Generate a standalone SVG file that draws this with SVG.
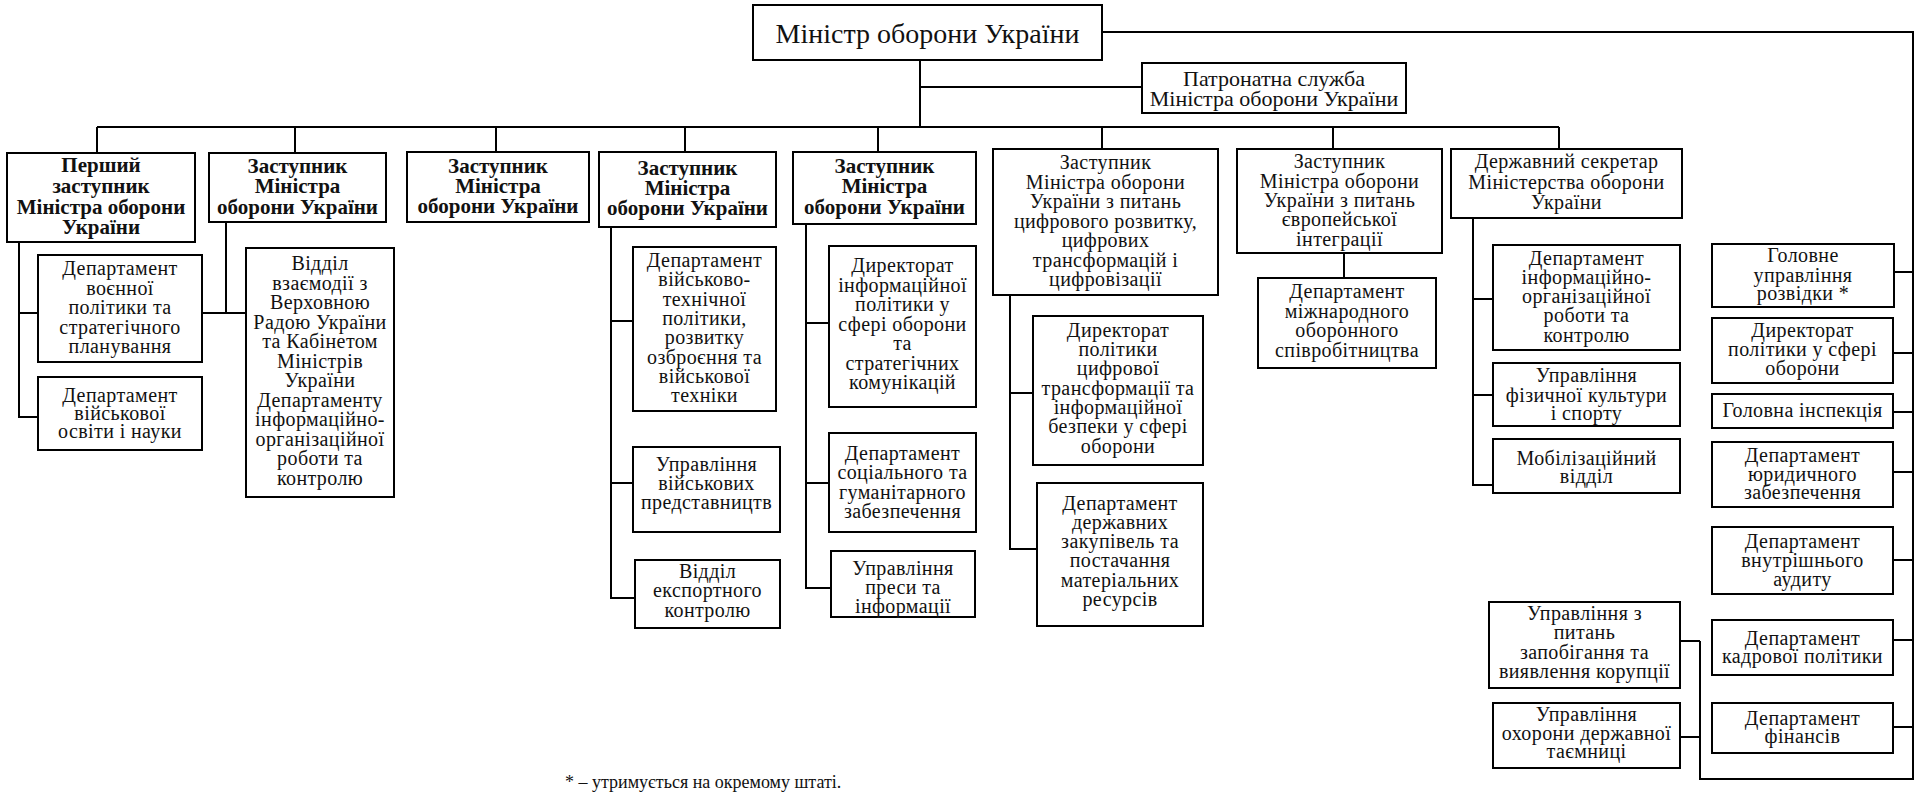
<svg xmlns="http://www.w3.org/2000/svg" width="1920" height="802" viewBox="0 0 1920 802">
<style>
.bx{fill:#fff;stroke:#000;stroke-width:2}
.ln{fill:none;stroke:#000;stroke-width:2}
text{font-family:"Liberation Serif","Times New Roman",serif;font-size:20px;letter-spacing:0.4px;text-anchor:middle;fill:#111}
.hd{font-weight:bold;font-size:21px;letter-spacing:0}
.big{font-size:28px;letter-spacing:0}
.pat{font-size:22px;letter-spacing:0}
.note{font-size:18px;letter-spacing:0;text-anchor:start}
</style>
<rect width="1920" height="802" fill="#fff"/>
<g id="connectors">
<path class="ln" d="M1102,32 H1913 V779 H1700 V641"/>
<path class="ln" d="M1894,272 H1913 M1893,353 H1913 M1893,412 H1913 M1893,472 H1913 M1893,560 H1913 M1893,640 H1913 M1893,727 H1913"/>
<path class="ln" d="M1680,641 H1700 M1680,737 H1700"/>
<path class="ln" d="M920,60 V127 M920,87 H1142"/>
<path class="ln" d="M97,127 H1559 M97,127 V153 M295,127 V153 M496,127 V152 M685,127 V152 M878,127 V152 M1102,127 V149 M1333,127 V149 M1559,127 V149"/>
<path class="ln" d="M19,242 V417 H38 M19,313 H38"/>
<path class="ln" d="M226,222 V313 M202,313 H246"/>
<path class="ln" d="M611,227 V598 H635 M611,321 H633 M611,483 H633"/>
<path class="ln" d="M806,224 V588 H831 M806,323 H829 M806,483 H829"/>
<path class="ln" d="M1010,295 V549 H1037 M1010,393 H1033"/>
<path class="ln" d="M1344,253 V278"/>
<path class="ln" d="M1473,218 V485 H1493 M1473,299 H1493 M1473,395 H1493"/>
</g>
<g id="minister"><rect class="bx" x="753" y="5" width="349" height="55"/><text class="big" x="927.5" y="43">Міністр оборони України</text></g>
<g id="patronatna"><rect class="bx" x="1142" y="63" width="264" height="50"/><text class="pat"><tspan x="1274" y="86">Патронатна служба</tspan><tspan x="1274" y="106">Міністра оборони України</tspan></text></g>
<g id="box1"><rect class="bx" x="7" y="153" width="188" height="89"/><text class="hd"><tspan x="101" y="172">Перший</tspan><tspan x="101" y="193">заступник</tspan><tspan x="101" y="214">Міністра оборони</tspan><tspan x="101" y="234">України</tspan></text></g>
<g id="box2"><rect class="bx" x="209" y="153" width="177" height="69"/><text class="hd"><tspan x="297.5" y="173">Заступник</tspan><tspan x="297.5" y="193">Міністра</tspan><tspan x="297.5" y="214">оборони України</tspan></text></g>
<g id="box3"><rect class="bx" x="407" y="152" width="182" height="70"/><text class="hd"><tspan x="498" y="173">Заступник</tspan><tspan x="498" y="193">Міністра</tspan><tspan x="498" y="213">оборони України</tspan></text></g>
<g id="box4"><rect class="bx" x="599" y="152" width="177" height="75"/><text class="hd"><tspan x="687.5" y="175">Заступник</tspan><tspan x="687.5" y="195">Міністра</tspan><tspan x="687.5" y="215">оборони України</tspan></text></g>
<g id="box5"><rect class="bx" x="793" y="152" width="183" height="72"/><text class="hd"><tspan x="884.5" y="173">Заступник</tspan><tspan x="884.5" y="193">Міністра</tspan><tspan x="884.5" y="214">оборони України</tspan></text></g>
<g id="box6"><rect class="bx" x="993" y="149" width="225" height="146"/><text><tspan x="1105.5" y="169">Заступник</tspan><tspan x="1105.5" y="189">Міністра оборони</tspan><tspan x="1105.5" y="208">України з питань</tspan><tspan x="1105.5" y="228">цифрового розвитку,</tspan><tspan x="1105.5" y="247">цифрових</tspan><tspan x="1105.5" y="267">трансформацій і</tspan><tspan x="1105.5" y="286">цифровізації</tspan></text></g>
<g id="box7"><rect class="bx" x="1237" y="149" width="205" height="104"/><text><tspan x="1339.5" y="168">Заступник</tspan><tspan x="1339.5" y="188">Міністра оборони</tspan><tspan x="1339.5" y="207">України з питань</tspan><tspan x="1339.5" y="226">європейської</tspan><tspan x="1339.5" y="246">інтеграції</tspan></text></g>
<g id="box8"><rect class="bx" x="1451" y="149" width="231" height="69"/><text><tspan x="1566.5" y="168">Державний секретар</tspan><tspan x="1566.5" y="189">Міністерства оборони</tspan><tspan x="1566.5" y="209">України</tspan></text></g>
<g id="a1"><rect class="bx" x="38" y="255" width="164" height="107"/><text><tspan x="120" y="275">Департамент</tspan><tspan x="120" y="294.5">воєнної</tspan><tspan x="120" y="314">політики та</tspan><tspan x="120" y="333.5">стратегічного</tspan><tspan x="120" y="353">планування</tspan></text></g>
<g id="a2"><rect class="bx" x="38" y="377" width="164" height="73"/><text><tspan x="120" y="402">Департамент</tspan><tspan x="120" y="420">військової</tspan><tspan x="120" y="438">освіти і науки</tspan></text></g>
<g id="b1"><rect class="bx" x="246" y="248" width="148" height="249"/><text><tspan x="320" y="270">Відділ</tspan><tspan x="320" y="289.5">взаємодії з</tspan><tspan x="320" y="309">Верховною</tspan><tspan x="320" y="328.5">Радою України</tspan><tspan x="320" y="348">та Кабінетом</tspan><tspan x="320" y="367.5">Міністрів</tspan><tspan x="320" y="387">України</tspan><tspan x="320" y="406.5">Департаменту</tspan><tspan x="320" y="426">інформаційно-</tspan><tspan x="320" y="445.5">організаційної</tspan><tspan x="320" y="465">роботи та</tspan><tspan x="320" y="484.5">контролю</tspan></text></g>
<g id="d1"><rect class="bx" x="633" y="247" width="143" height="164"/><text><tspan x="704.5" y="267">Департамент</tspan><tspan x="704.5" y="286.3">військово-</tspan><tspan x="704.5" y="305.6">технічної</tspan><tspan x="704.5" y="324.9">політики,</tspan><tspan x="704.5" y="344.2">розвитку</tspan><tspan x="704.5" y="363.5">озброєння та</tspan><tspan x="704.5" y="382.8">військової</tspan><tspan x="704.5" y="402">техніки</tspan></text></g>
<g id="d2"><rect class="bx" x="633" y="447" width="147" height="85"/><text><tspan x="706.5" y="471">Управління</tspan><tspan x="706.5" y="490">військових</tspan><tspan x="706.5" y="509">представництв</tspan></text></g>
<g id="d3"><rect class="bx" x="635" y="560" width="145" height="68"/><text><tspan x="707.5" y="578">Відділ</tspan><tspan x="707.5" y="597">експортного</tspan><tspan x="707.5" y="617">контролю</tspan></text></g>
<g id="e1"><rect class="bx" x="829" y="246" width="147" height="161"/><text><tspan x="902.5" y="272">Директорат</tspan><tspan x="902.5" y="292">інформаційної</tspan><tspan x="902.5" y="311">політики у</tspan><tspan x="902.5" y="331">сфері оборони</tspan><tspan x="902.5" y="350">та</tspan><tspan x="902.5" y="370">стратегічних</tspan><tspan x="902.5" y="389">комунікацій</tspan></text></g>
<g id="e2"><rect class="bx" x="829" y="433" width="147" height="99"/><text><tspan x="902.5" y="460">Департамент</tspan><tspan x="902.5" y="479">соціального та</tspan><tspan x="902.5" y="499">гуманітарного</tspan><tspan x="902.5" y="518">забезпечення</tspan></text></g>
<g id="e3"><rect class="bx" x="831" y="551" width="144" height="66"/><text><tspan x="903" y="575">Управління</tspan><tspan x="903" y="594">преси та</tspan><tspan x="903" y="613">інформації</tspan></text></g>
<g id="f1"><rect class="bx" x="1033" y="316" width="170" height="149"/><text><tspan x="1118" y="337">Директорат</tspan><tspan x="1118" y="356">політики</tspan><tspan x="1118" y="375">цифрової</tspan><tspan x="1118" y="395">трансформації та</tspan><tspan x="1118" y="414">інформаційної</tspan><tspan x="1118" y="433">безпеки у сфері</tspan><tspan x="1118" y="453">оборони</tspan></text></g>
<g id="f2"><rect class="bx" x="1037" y="483" width="166" height="143"/><text><tspan x="1120" y="510">Департамент</tspan><tspan x="1120" y="529">державних</tspan><tspan x="1120" y="548">закупівель та</tspan><tspan x="1120" y="567">постачання</tspan><tspan x="1120" y="587">матеріальних</tspan><tspan x="1120" y="606">ресурсів</tspan></text></g>
<g id="g1"><rect class="bx" x="1258" y="278" width="178" height="90"/><text><tspan x="1347" y="298">Департамент</tspan><tspan x="1347" y="318">міжнародного</tspan><tspan x="1347" y="337">оборонного</tspan><tspan x="1347" y="357">співробітництва</tspan></text></g>
<g id="h1"><rect class="bx" x="1493" y="245" width="187" height="105"/><text><tspan x="1586.5" y="265">Департамент</tspan><tspan x="1586.5" y="284">інформаційно-</tspan><tspan x="1586.5" y="303">організаційної</tspan><tspan x="1586.5" y="322">роботи та</tspan><tspan x="1586.5" y="342">контролю</tspan></text></g>
<g id="h2"><rect class="bx" x="1493" y="363" width="187" height="63"/><text><tspan x="1586.5" y="382">Управління</tspan><tspan x="1586.5" y="402">фізичної культури</tspan><tspan x="1586.5" y="420">і спорту</tspan></text></g>
<g id="h3"><rect class="bx" x="1493" y="439" width="187" height="54"/><text><tspan x="1586.5" y="465">Мобілізаційний</tspan><tspan x="1586.5" y="483">відділ</tspan></text></g>
<g id="r1"><rect class="bx" x="1712" y="244" width="182" height="63"/><text><tspan x="1803" y="262">Головне</tspan><tspan x="1803" y="282">управління</tspan><tspan x="1803" y="300">розвідки *</tspan></text></g>
<g id="r2"><rect class="bx" x="1712" y="318" width="181" height="65"/><text><tspan x="1802.5" y="337">Директорат</tspan><tspan x="1802.5" y="356">політики у сфері</tspan><tspan x="1802.5" y="375">оборони</tspan></text></g>
<g id="r3"><rect class="bx" x="1712" y="394" width="181" height="34"/><text x="1802.5" y="417">Головна інспекція</text></g>
<g id="r4"><rect class="bx" x="1712" y="442" width="181" height="65"/><text><tspan x="1802.5" y="462">Департамент</tspan><tspan x="1802.5" y="481">юридичного</tspan><tspan x="1802.5" y="499">забезпечення</tspan></text></g>
<g id="r5"><rect class="bx" x="1712" y="527" width="181" height="67"/><text><tspan x="1802.5" y="548">Департамент</tspan><tspan x="1802.5" y="567">внутрішнього</tspan><tspan x="1802.5" y="586">аудиту</tspan></text></g>
<g id="r6"><rect class="bx" x="1712" y="620" width="181" height="55"/><text><tspan x="1802.5" y="645">Департамент</tspan><tspan x="1802.5" y="663">кадрової політики</tspan></text></g>
<g id="r7"><rect class="bx" x="1712" y="703" width="181" height="50"/><text><tspan x="1802.5" y="725">Департамент</tspan><tspan x="1802.5" y="743">фінансів</tspan></text></g>
<g id="l1"><rect class="bx" x="1489" y="602" width="191" height="86"/><text><tspan x="1584.5" y="620">Управління з</tspan><tspan x="1584.5" y="639">питань</tspan><tspan x="1584.5" y="659">запобігання та</tspan><tspan x="1584.5" y="678">виявлення корупції</tspan></text></g>
<g id="l2"><rect class="bx" x="1493" y="703" width="187" height="65"/><text><tspan x="1586.5" y="721">Управління</tspan><tspan x="1586.5" y="740">охорони державної</tspan><tspan x="1586.5" y="758">таємниці</tspan></text></g>
<text class="note" x="565" y="788">* – утримується на окремому штаті.</text>
</svg>
